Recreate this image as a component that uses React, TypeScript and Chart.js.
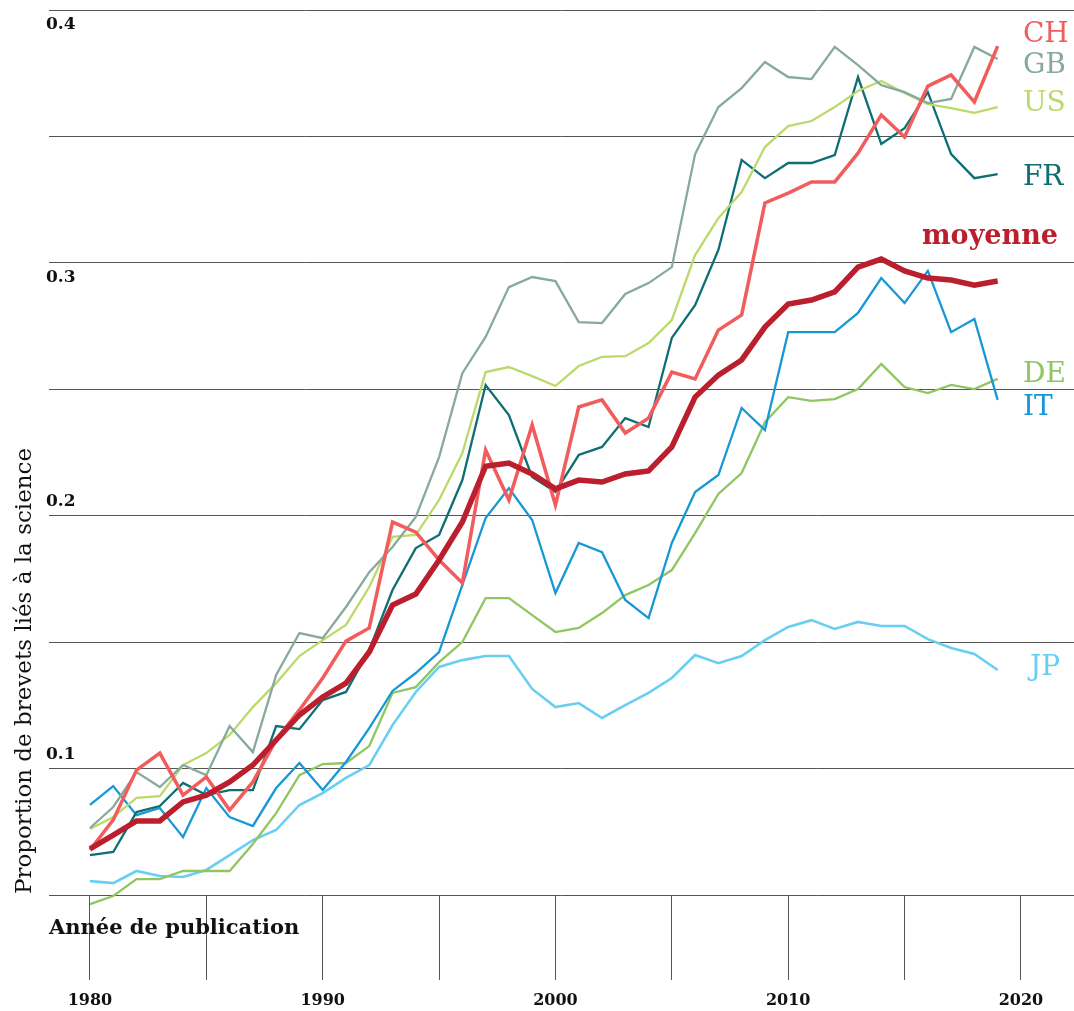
import { useEffect, useRef } from 'react';
import { Chart, registerables } from 'chart.js';

Chart.register(...registerables);

const years = [
  1980, 1981, 1982, 1983, 1984, 1985, 1986, 1987, 1988, 1989,
  1990, 1991, 1992, 1993, 1994, 1995, 1996, 1997, 1998, 1999,
  2000, 2001, 2002, 2003, 2004, 2005, 2006, 2007, 2008, 2009,
  2010, 2011, 2012, 2013, 2014, 2015, 2016, 2017, 2018, 2019,
];

const moyenne = [
  0.0682, 0.0737, 0.0793, 0.0793, 0.0868, 0.0895, 0.0947, 0.1014, 0.1113, 0.1212,
  0.1283, 0.1338, 0.1461, 0.1647, 0.1690, 0.1825, 0.1975, 0.2196, 0.2208, 0.2165,
  0.2106, 0.2141, 0.2133, 0.2165, 0.2177, 0.2272, 0.2469, 0.2556, 0.2616, 0.2746,
  0.2837, 0.2853, 0.2885, 0.2983, 0.3015, 0.2968, 0.2940, 0.2932, 0.2912, 0.2928,
];

const ch = [
  0.0678, 0.0797, 0.0994, 0.1061, 0.0895, 0.0967, 0.0836, 0.0947, 0.1113, 0.1232,
  0.1358, 0.1504, 0.1556, 0.1975, 0.1935, 0.1825, 0.1734, 0.2260, 0.2062, 0.2359,
  0.2042, 0.2430, 0.2458, 0.2327, 0.2386, 0.2568, 0.2541, 0.2734, 0.2794, 0.3237,
  0.3276, 0.3320, 0.3320, 0.3434, 0.3585, 0.3498, 0.3699, 0.3743, 0.3636, 0.3857,
];

const gb = [
  0.0765, 0.0848, 0.0986, 0.0927, 0.1014, 0.0974, 0.1168, 0.1065, 0.1370, 0.1536,
  0.1516, 0.1639, 0.1777, 0.1876, 0.1995, 0.2232, 0.2564, 0.2707, 0.2904, 0.2944,
  0.2928, 0.2766, 0.2762, 0.2877, 0.2920, 0.2983, 0.3430, 0.3616, 0.3691, 0.3794,
  0.3735, 0.3727, 0.3854, 0.3782, 0.3703, 0.3675, 0.3632, 0.3648, 0.3854, 0.3806,
];

const us = [
  0.0761, 0.0808, 0.0884, 0.0891, 0.1014, 0.1061, 0.1133, 0.1243, 0.1338, 0.1445,
  0.1508, 0.1568, 0.1718, 0.1916, 0.1924, 0.2062, 0.2248, 0.2568, 0.2588, 0.2552,
  0.2513, 0.2592, 0.2628, 0.2631, 0.2683, 0.2774, 0.3031, 0.3177, 0.3280, 0.3458,
  0.3541, 0.3561, 0.3616, 0.3680, 0.3719, 0.3672, 0.3628, 0.3612, 0.3593, 0.3616,
];

const fr = [
  0.0658, 0.0670, 0.0828, 0.0852, 0.0943, 0.0895, 0.0915, 0.0915, 0.1168, 0.1156,
  0.1271, 0.1303, 0.1469, 0.1706, 0.1872, 0.1924, 0.2141, 0.2517, 0.2398, 0.2153,
  0.2094, 0.2240, 0.2272, 0.2386, 0.2351, 0.2703, 0.2833, 0.3051, 0.3407, 0.3335,
  0.3395, 0.3395, 0.3426, 0.3735, 0.3470, 0.3533, 0.3675, 0.3430, 0.3335, 0.3351,
];

const de = [
  0.0464, 0.0496, 0.0563, 0.0563, 0.0595, 0.0595, 0.0595, 0.0702, 0.0824, 0.0974,
  0.1018, 0.1022, 0.1089, 0.1299, 0.1322, 0.1421, 0.1500, 0.1674, 0.1674, 0.1607,
  0.1540, 0.1556, 0.1615, 0.1686, 0.1726, 0.1785, 0.1931, 0.2086, 0.2169, 0.2370,
  0.2469, 0.2454, 0.2461, 0.2501, 0.2600, 0.2509, 0.2485, 0.2517, 0.2501, 0.2541,
];

const it = [
  0.0856, 0.0931, 0.0816, 0.0844, 0.0729, 0.0923, 0.0808, 0.0773, 0.0923, 0.1022,
  0.0915, 0.1026, 0.1160, 0.1307, 0.1378, 0.1461, 0.1726, 0.1991, 0.2109, 0.1983,
  0.1694, 0.1892, 0.1856, 0.1667, 0.1595, 0.1892, 0.2094, 0.2161, 0.2426, 0.2339,
  0.2726, 0.2726, 0.2726, 0.2802, 0.2940, 0.2841, 0.2968, 0.2726, 0.2778, 0.2458,
];

const jp = [
  0.0555, 0.0547, 0.0595, 0.0575, 0.0571, 0.0599, 0.0658, 0.0717, 0.0757, 0.0856,
  0.0903, 0.0963, 0.1014, 0.1172, 0.1303, 0.1402, 0.1429, 0.1445, 0.1445, 0.1315,
  0.1243, 0.1259, 0.1200, 0.1251, 0.1299, 0.1358, 0.1449, 0.1417, 0.1445, 0.1508,
  0.1560, 0.1587, 0.1552, 0.1580, 0.1564, 0.1564, 0.1512, 0.1477, 0.1453, 0.1390,
];

const seriesNames = ['moyenne', 'CH', 'GB', 'US', 'FR', 'IT', 'DE', 'JP'];
const seriesColors = ['#bb1e2d', '#f25c5c', '#87aa9c', '#bcd96b', '#0e6f72', '#1798d6', '#8fc661', '#68cff3'];
const seriesWidths = [5.5, 3.5, 2.3, 2.3, 2.3, 2.3, 2.3, 2.6];
const seriesData = [moyenne, ch, gb, us, fr, it, de, jp];

// label anchor values (where each series name sits on the y scale)
const labelValues = [0.3102, 0.3901, 0.3778, 0.3628, 0.3335, 0.2426, 0.2557, 0.1398];

const xTicks = [1980, 1985, 1990, 1995, 2000, 2005, 2010, 2015, 2020];
const xLabelled = [1980, 1990, 2000, 2010, 2020];
const yGrid = [0.05, 0.1, 0.15, 0.2, 0.25, 0.3, 0.35, 0.4];
const yLabels = ['0.4', '0.3', '0.2', '0.1'];

const xTitle = 'Année de publication';
const yTitle = 'Proportion de brevets liés à la science';

const FONT = "'DejaVu Serif', serif";

const overlay = {
  id: 'overlay',
  afterDraw(chart: any) {
    const ctx = chart.ctx;
    const xs = chart.scales.x;
    const ys = chart.scales.y;
    ctx.save();
    // y tick labels
    ctx.fillStyle = '#111';
    ctx.font = `bold 17px ${FONT}`;
    ctx.textAlign = 'left';
    ctx.textBaseline = 'middle';
    yLabels.forEach((t) => {
      const v = parseFloat(t);
      const py = ys.getPixelForValue(v);
      const dy = v >= 0.25 ? 15 : -14;
      ctx.fillText(t, 46, py + dy);
    });
    // x title
    ctx.font = `bold 21px ${FONT}`;
    ctx.textBaseline = 'alphabetic';
    ctx.fillText(xTitle, 49, 934);
    // y title
    ctx.save();
    ctx.translate(31, 671);
    ctx.rotate(-Math.PI / 2);
    ctx.font = `23px ${FONT}`;
    ctx.textAlign = 'center';
    ctx.textBaseline = 'alphabetic';
    ctx.fillText(yTitle, 0, 0);
    ctx.restore();
    // series labels
    const x2020 = xs.getPixelForValue(2020);
    seriesNames.forEach((name, i) => {
      const py = ys.getPixelForValue(labelValues[i]);
      ctx.fillStyle = seriesColors[i];
      ctx.textBaseline = 'middle';
      if (name === 'moyenne') {
        ctx.font = `bold 27px ${FONT}`;
        ctx.textAlign = 'right';
        ctx.fillText(name, x2020 + 37, py);
      } else {
        ctx.font = `28px ${FONT}`;
        ctx.textAlign = 'left';
        ctx.fillText(name, x2020 + (name === 'JP' ? 9 : 2), py);
      }
    });
    ctx.restore();
  },
};

export default function App() {
  const ref = useRef<HTMLCanvasElement>(null);
  useEffect(() => {
    if (!ref.current) return;
    const chart = new Chart(ref.current, {
      type: 'line',
      data: {
        datasets: seriesNames.map((name, i) => ({
          label: name,
          data: years.map((yr, j) => ({ x: yr, y: seriesData[i][j] })),
          borderColor: seriesColors[i],
          backgroundColor: seriesColors[i],
          borderWidth: seriesWidths[i],
          pointRadius: 0,
          tension: 0,
          fill: false,
          clip: false as any,
        })),
      },
      options: {
        animation: false,
        responsive: false,
        layout: { padding: { left: 49, top: 10, right: 0, bottom: 0 } },
        plugins: { legend: { display: false }, tooltip: { enabled: false } },
        scales: {
          x: {
            type: 'linear',
            min: 1978.24,
            max: 2022.28,
            afterBuildTicks: (s: any) => {
              s.ticks = xTicks.map((v) => ({ value: v }));
            },
            afterFit: (s: any) => {
              s.height = 116;
            },
            grid: { drawOnChartArea: false, drawTicks: true, tickLength: 85, color: '#555', lineWidth: 1 },
            border: { display: false },
            ticks: {
              autoSkip: false,
              maxRotation: 0,
              padding: 11,
              color: '#111',
              font: { family: FONT, size: 16, weight: 'bold' },
              callback: (v: any) => (xLabelled.includes(Number(v)) ? String(v) : ''),
            },
          },
          y: {
            type: 'linear',
            min: 0.05,
            max: 0.4,
            afterBuildTicks: (s: any) => {
              s.ticks = yGrid.map((v) => ({ value: v }));
            },
            afterFit: (s: any) => {
              s.width = 0;
            },
            grid: { color: '#555', lineWidth: 1, drawTicks: false },
            border: { display: false },
            ticks: { display: false },
          },
        },
      },
      plugins: [overlay],
    } as any);
    return () => chart.destroy();
  }, []);
  return (
    <div style={{ position: 'absolute', left: 0, top: 0, width: 1074, height: 1011, background: '#fff' }}>
      <canvas ref={ref} width={1074} height={1011} style={{ width: 1074, height: 1011, display: 'block' }} />
    </div>
  );
}
